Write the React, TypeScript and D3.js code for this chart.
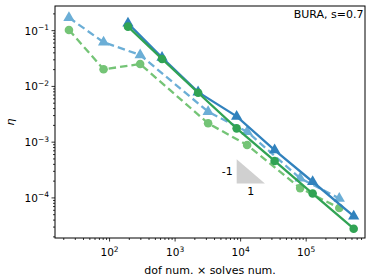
import React, { useEffect, useRef } from "react";
import * as d3 from "d3";

// cost (dof num. x solves num.) and error eta
const xLight = [24, 81, 293, 3190, 12560, 80900, 320000];
const xDark = [191, 632, 2245, 8690, 33000, 125600, 531000];
const etaLightBlue = [0.171, 0.062, 0.0366, 0.00352, 0.00154, 0.000225, 0.000098];
const etaLightGreen = [0.103, 0.0203, 0.0252, 0.00218, 0.00089, 0.00015, 0.000066];
const etaDarkBlue = [0.136, 0.033, 0.0079, 0.0029, 0.00072, 0.000195, 0.000047];
const etaDarkGreen = [0.118, 0.031, 0.0077, 0.00177, 0.00046, 0.00012, 0.000028];
const xTicks = [1e2, 1e3, 1e4, 1e5];
const yTicks = [1e-4, 1e-3, 1e-2, 1e-1];
const slopeTri = { x0: 8700, factor: 2.7, yBot: 1.82e-4 };

const App: React.FC = () => {
  const svgRef = useRef<any>();

  useEffect(() => {
    const width = 374;
    const height = 279;
    const m = { left: 55, right: 9, top: 6, bottom: 41 };

    const svg = d3.select(svgRef.current);
    svg.selectAll("*").remove();
    svg
      .attr("width", width)
      .attr("height", height)
      .attr("style", "position:absolute;left:0;top:0;font-family:'DejaVu Sans';");

    const x = d3.scaleLog().domain([14.7, 7.9e5]).range([m.left, width - m.right]);
    const y = d3.scaleLog().domain([1.91e-5, 0.277]).range([height - m.bottom, m.top]);
    const x0 = m.left, x1 = width - m.right, y0 = height - m.bottom, y1 = m.top;

    // minor ticks
    const minors = (lo: number, hi: number) => {
      const out: number[] = [];
      for (let e = Math.floor(Math.log10(lo)); e <= Math.ceil(Math.log10(hi)); e++) {
        for (let k = 2; k <= 9; k++) {
          const v = k * Math.pow(10, e);
          if (v >= lo && v <= hi) out.push(v);
        }
      }
      return out;
    };

    const axes = svg.append("g").attr("stroke", "black").attr("stroke-width", 0.8);
    minors(14.7, 7.9e5).forEach((v) => {
      axes.append("line").attr("x1", x(v)).attr("x2", x(v)).attr("y1", y0).attr("y2", y0 + 2);
    });
    xTicks.forEach((v) => {
      axes.append("line").attr("x1", x(v)).attr("x2", x(v)).attr("y1", y0).attr("y2", y0 + 3.5);
    });
    minors(1.91e-5, 0.277).forEach((v) => {
      axes.append("line").attr("y1", y(v)).attr("y2", y(v)).attr("x1", x0).attr("x2", x0 - 2);
    });
    yTicks.forEach((v) => {
      axes.append("line").attr("y1", y(v)).attr("y2", y(v)).attr("x1", x0).attr("x2", x0 - 3.5);
    });

    const exp = (v: number) => Math.round(Math.log10(v));
    xTicks.forEach((v) => {
      const t = svg
        .append("text")
        .attr("x", x(v))
        .attr("y", y0 + 18)
        .attr("text-anchor", "middle")
        .attr("font-size", 10.5);
      t.append("tspan").text("10");
      t.append("tspan").attr("font-size", 7.5).attr("dy", -4.5).text(String(exp(v)));
    });
    yTicks.forEach((v) => {
      const t = svg
        .append("text")
        .attr("x", x0 - 6)
        .attr("y", y(v) + 4)
        .attr("text-anchor", "end")
        .attr("font-size", 10.5);
      t.append("tspan").text("10");
      t.append("tspan").attr("font-size", 7.5).attr("dy", -4.5).text("\u2212" + String(-exp(v)));
    });

    // slope triangle
    const tri = slopeTri;
    const xa = x(tri.x0), xb = x(tri.x0 * tri.factor);
    const ya = y(tri.yBot * tri.factor), yb = y(tri.yBot);
    svg
      .append("path")
      .attr("d", `M${xa},${ya}L${xa},${yb}L${xb},${yb}Z`)
      .attr("fill", "#d0d0d0");
    svg.append("text").attr("x", xa - 4).attr("y", (ya + yb) / 2 + 4).attr("text-anchor", "end")
      .attr("font-size", 11).text("-1");
    svg.append("text").attr("x", (xa + xb) / 2).attr("y", yb + 12).attr("text-anchor", "middle")
      .attr("font-size", 11).text("1");

    const series = [
      { xs: xLight, ys: etaLightBlue, color: "#6baed6", dash: "7.5,4", marker: "tri" },
      { xs: xLight, ys: etaLightGreen, color: "#74c476", dash: "7.5,4", marker: "circ" },
      { xs: xDark, ys: etaDarkBlue, color: "#3182bd", dash: null, marker: "tri" },
      { xs: xDark, ys: etaDarkGreen, color: "#31a354", dash: null, marker: "circ" },
    ];
    const line = d3
      .line<[number, number]>()
      .x((d) => x(d[0]))
      .y((d) => y(d[1]));
    const tri2 = d3.symbol().type(d3.symbolTriangle).size(55);
    const circ = d3.symbol().type(d3.symbolCircle).size(58);

    series.forEach((s) => {
      const pts = s.xs.map((v, i) => [v, s.ys[i]] as [number, number]);
      const g = svg.append("g");
      g.append("path")
        .attr("d", line(pts))
        .attr("fill", "none")
        .attr("stroke", s.color)
        .attr("stroke-width", 2.3)
        .attr("stroke-dasharray", s.dash);
      g.selectAll("path.m")
        .data(pts)
        .join("path")
        .attr("class", "m")
        .attr("transform", (d) => `translate(${x(d[0])},${y(d[1])})`)
        .attr("d", s.marker === "tri" ? tri2() : circ())
        .attr("fill", s.color);
    });

    // frame
    svg
      .append("rect")
      .attr("x", x0)
      .attr("y", y1)
      .attr("width", x1 - x0)
      .attr("height", y0 - y1)
      .attr("fill", "none")
      .attr("stroke", "black")
      .attr("stroke-width", 1);

    svg.append("text").attr("x", x1 - 1.5).attr("y", y1 + 12).attr("text-anchor", "end")
      .attr("font-size", 11).text("BURA, s=0.7");

    svg.append("text").attr("x", (x0 + x1) / 2).attr("y", height - 5).attr("text-anchor", "middle")
      .attr("font-size", 11).text("dof num. \u00d7 solves num.");
    svg.append("text").attr("transform", `translate(14,${(y0 + y1) / 2}) rotate(-90)`)
      .attr("text-anchor", "middle").attr("font-size", 11).attr("font-style", "italic").text("\u03b7");
  }, []);

  return <svg ref={svgRef}></svg>;
};

export default App;
